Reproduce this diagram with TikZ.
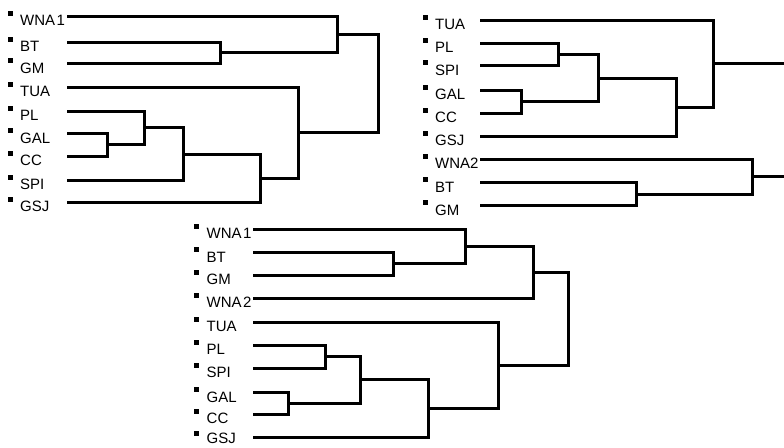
\documentclass[tikz,border=0pt]{standalone}
\usepackage{fontspec}
\setmainfont{Liberation Sans}
\tikzset{
  sq/.style={rectangle,fill=black,draw=none,minimum size=5pt,inner sep=0pt},
  lbl/.style={anchor=base west,inner sep=0pt,font=\fontsize{15}{15}\selectfont},
  br/.style={line width=3pt,black}
}
\newcommand{\dleaf}[6]{%
  \node[sq] (#1-sq) at (#2,#5-3) {};
  \node[lbl] (#1-t) at (#3,#5+9.5) {#6};
  \coordinate (#1) at (#4,#5);
}
\begin{document}
\begin{tikzpicture}[x=1pt,y=-1pt]
\fill[white] (0,0) rectangle (784,447);
\useasboundingbox (0,0) rectangle (784,447);
% ---------- dendrogram 1 (top left)
\dleaf{A-wna1}{10}{20}{67}{16}{WNA\kern1.5pt1}
\dleaf{A-bt}{10}{20}{67}{42}{BT}
\dleaf{A-gm}{10}{20}{67}{63.5}{GM}
\dleaf{A-tua}{10}{20}{67}{87}{TUA}
\dleaf{A-pl}{10}{20}{67}{111}{PL}
\dleaf{A-gal}{10}{20}{67}{133.5}{GAL}
\dleaf{A-cc}{10}{20}{67}{156}{CC}
\dleaf{A-spi}{10}{20}{67}{180}{SPI}
\dleaf{A-gsj}{10}{20}{67}{202}{GSJ}
\coordinate (a1) at (220,52.75);
\coordinate (a2) at (337,34.4);
\coordinate (a3) at (107,144.75);
\coordinate (a4) at (144,127.9);
\coordinate (a5) at (183,154);
\coordinate (a6) at (260,178);
\coordinate (a7) at (298,132.5);
\coordinate (a8) at (378,83.5);
\draw[br] (a1) |- (A-bt);  \draw[br] (a1) |- (A-gm);
\draw[br] (a2) |- (A-wna1); \draw[br] (a2) |- (a1);
\draw[br] (a3) |- (A-gal); \draw[br] (a3) |- (A-cc);
\draw[br] (a4) |- (A-pl);  \draw[br] (a4) |- (a3);
\draw[br] (a5) |- (a4);    \draw[br] (a5) |- (A-spi);
\draw[br] (a6) |- (a5);    \draw[br] (a6) |- (A-gsj);
\draw[br] (a7) |- (A-tua); \draw[br] (a7) |- (a6);
\draw[br] (a8) |- (a2);    \draw[br] (a8) |- (a7);
% ---------- dendrogram 2 (top right)
\dleaf{B-tua}{425}{435}{480}{20}{TUA}
\dleaf{B-pl}{425}{435}{480}{43.3}{PL}
\dleaf{B-spi}{425}{435}{480}{65.7}{SPI}
\dleaf{B-gal}{425}{435}{480}{90}{GAL}
\dleaf{B-cc}{425}{435}{480}{113.3}{CC}
\dleaf{B-gsj}{425}{435}{480}{136}{GSJ}
\dleaf{B-wna2}{425}{435}{480}{159.3}{WNA2}
\dleaf{B-bt}{425}{435}{480}{182.7}{BT}
\dleaf{B-gm}{425}{435}{480}{205.7}{GM}
\coordinate (b1) at (558,54.5);
\coordinate (b2) at (521,101.65);
\coordinate (b3) at (598,78.1);
\coordinate (b4) at (676,107);
\coordinate (b5) at (713.5,63.5);
\coordinate (b5e) at (784,63.5);
\coordinate (b6) at (636,194.2);
\coordinate (b7) at (752,176.7);
\coordinate (b7e) at (784,176.7);
\draw[br] (b1) |- (B-pl);  \draw[br] (b1) |- (B-spi);
\draw[br] (b2) |- (B-gal); \draw[br] (b2) |- (B-cc);
\draw[br] (b3) |- (b1);    \draw[br] (b3) |- (b2);
\draw[br] (b4) |- (b3);    \draw[br] (b4) |- (B-gsj);
\draw[br] (b5) |- (B-tua); \draw[br] (b5) |- (b4);
\draw[br] (b5) -- (b5e);
\draw[br] (b6) |- (B-bt);  \draw[br] (b6) |- (B-gm);
\draw[br] (b7) |- (B-wna2); \draw[br] (b7) |- (b6);
\draw[br] (b7) -- (b7e);
% ---------- dendrogram 3 (bottom)
\dleaf{C-wna1}{196}{206.5}{253}{229}{WNA\kern1.5pt1}
\dleaf{C-bt}{196}{206.5}{253}{252.5}{BT}
\dleaf{C-gm}{196}{206.5}{253}{275}{GM}
\dleaf{C-wna2}{196}{206.5}{253}{298}{WNA\kern1.5pt2}
\dleaf{C-tua}{196}{206.5}{253}{322}{TUA}
\dleaf{C-pl}{196}{206.5}{253}{345}{PL}
\dleaf{C-spi}{196}{206.5}{253}{368}{SPI}
\dleaf{C-gal}{196}{206.5}{253}{392.5}{GAL}
\dleaf{C-cc}{196}{206.5}{253}{414}{CC}
\node[sq] (C-gsj-sq) at (196,433.5) {};
\node[lbl] (C-gsj-t) at (206.5,443) {GSJ};
\coordinate (C-gsj) at (253,437);
\coordinate (c1) at (393,263.75);
\coordinate (c2) at (465,246.4);
\coordinate (c3) at (533.5,272.2);
\coordinate (c4) at (325,356.5);
\coordinate (c5) at (288,403.25);
\coordinate (c6) at (360,379.9);
\coordinate (c7) at (428,408.5);
\coordinate (c8) at (498.5,365.3);
\coordinate (c9) at (568,318.8);
\draw[br] (c1) |- (C-bt);  \draw[br] (c1) |- (C-gm);
\draw[br] (c2) |- (C-wna1); \draw[br] (c2) |- (c1);
\draw[br] (c3) |- (c2);    \draw[br] (c3) |- (C-wna2);
\draw[br] (c4) |- (C-pl);  \draw[br] (c4) |- (C-spi);
\draw[br] (c5) |- (C-gal); \draw[br] (c5) |- (C-cc);
\draw[br] (c6) |- (c4);    \draw[br] (c6) |- (c5);
\draw[br] (c7) |- (c6);    \draw[br] (c7) |- (C-gsj);
\draw[br] (c8) |- (C-tua); \draw[br] (c8) |- (c7);
\draw[br] (c9) |- (c3);    \draw[br] (c9) |- (c8);
\end{tikzpicture}
\end{document}
